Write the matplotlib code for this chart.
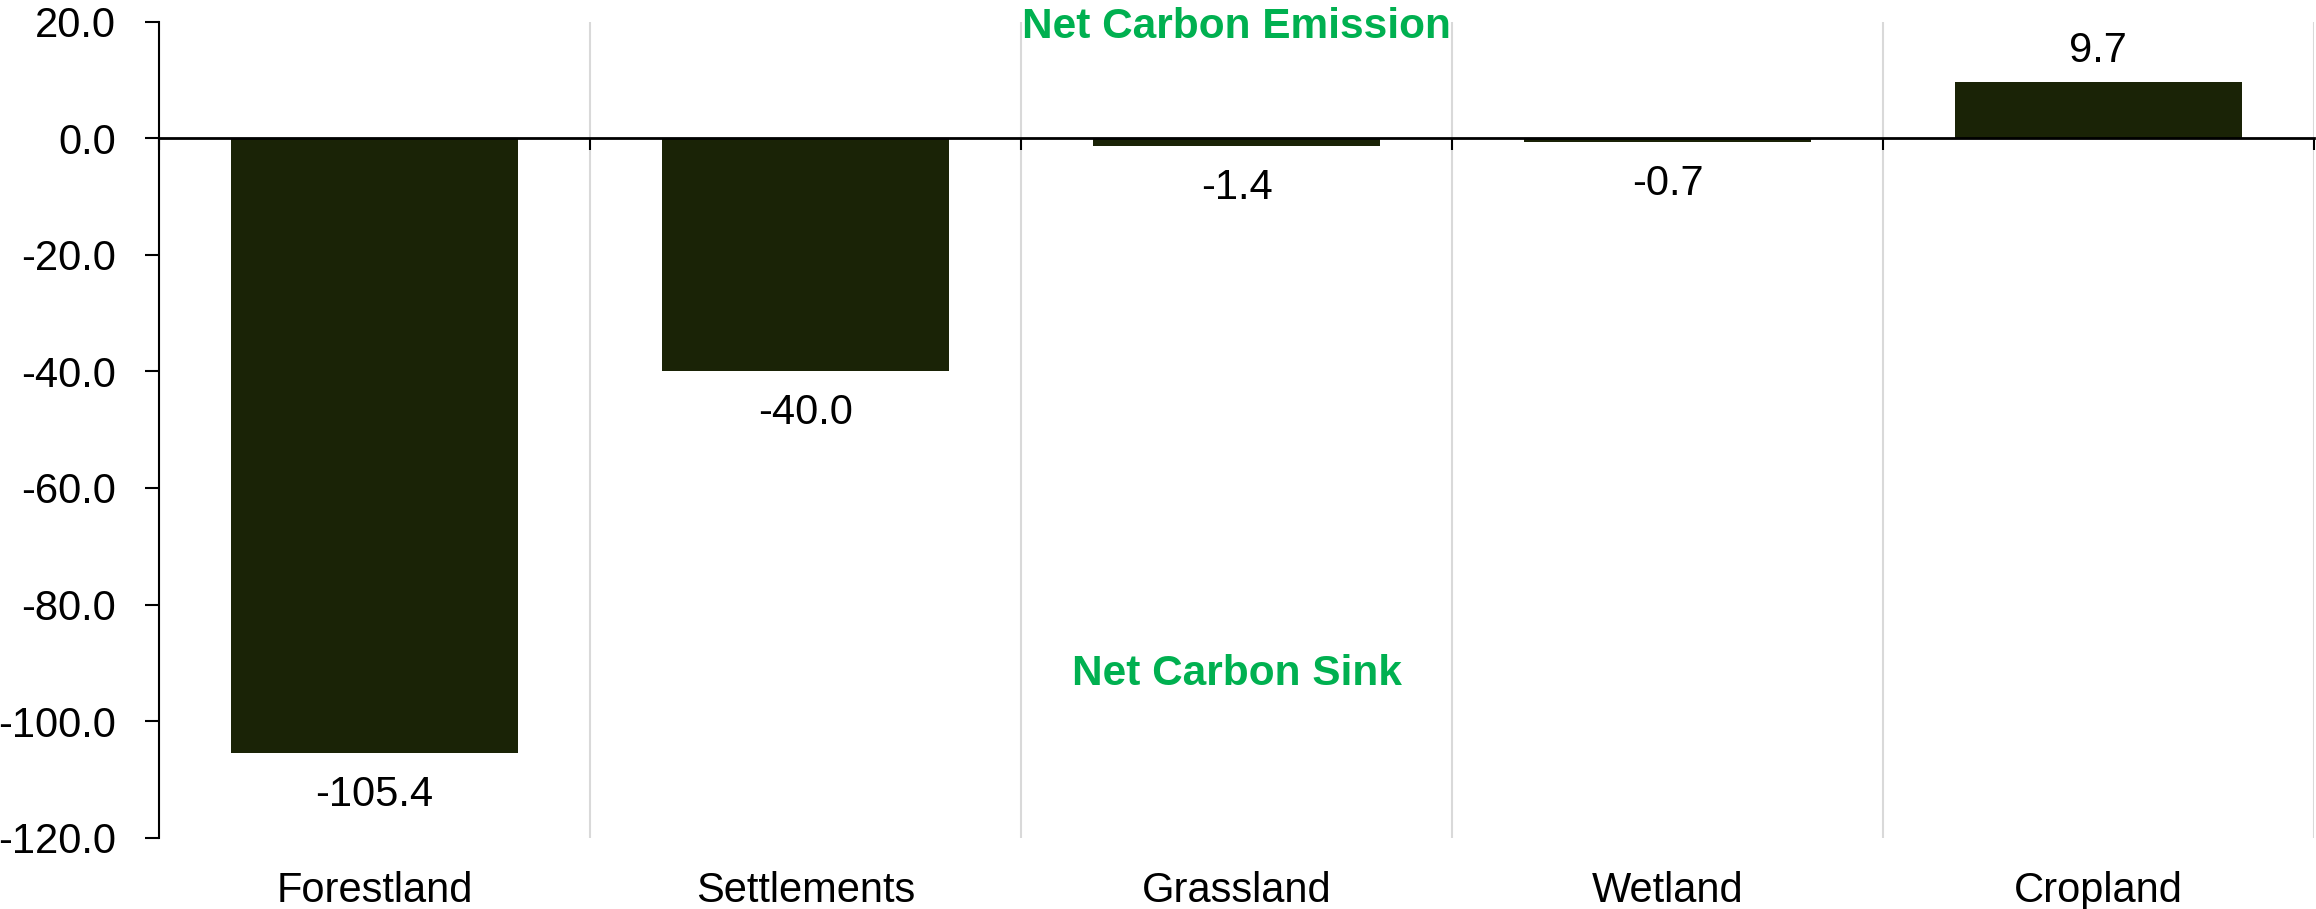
import matplotlib
matplotlib.use("Agg")
import matplotlib.pyplot as plt
import matplotlib.transforms as mtransforms

categories = ["Forestland", "Settlements", "Grassland", "Wetland", "Cropland"]
values = [-105.4, -40.0, -1.4, -0.7, 9.7]
yticks = [20, 0, -20, -40, -60, -80, -100, -120]

plt.rcParams['font.family'] = ['Liberation Sans', 'DejaVu Sans']

fig = plt.figure(figsize=(23.16, 9.09), dpi=100)
ax = fig.add_axes([0.0687, 0.0784, 0.9304, 0.8979])

bar_color = '#1a2306'
x = list(range(len(categories)))
bars = ax.bar(x, values, width=0.667, color=bar_color, zorder=3, linewidth=0)

ax.set_xlim(-0.5, len(categories) - 0.5)
ax.set_ylim(-120, 20)

# y axis
ax.set_yticks(yticks)
ax.set_yticklabels([f"{v:.1f}" for v in yticks])
ax.tick_params(axis='y', direction='out', length=10, width=1.5, pad=21,
               labelsize=30, colors='black')

# x axis at zero
ax.spines['bottom'].set_position(('data', 0))
ax.spines['bottom'].set_linewidth(2)
ax.spines['bottom'].set_zorder(4)
ax.spines['left'].set_linewidth(1.5)
ax.spines['top'].set_visible(False)
ax.spines['right'].set_visible(False)
bounds = [i - 0.5 for i in range(len(categories) + 1)]
ax.set_xticks(bounds)
ax.set_xticklabels([''] * len(bounds))
ax.tick_params(axis='x', direction='out', length=8.6, width=1.5)
ax.grid(axis='x', color='#d9d9d9', linewidth=1.5, zorder=0)
ax.set_axisbelow(True)

# category labels below the plot
trans = mtransforms.blended_transform_factory(ax.transData, ax.transAxes)
for i, c in enumerate(categories):
    ax.text(i, -0.0784, c, transform=trans, ha='center', va='baseline',
            fontsize=30, color='black')

# value labels
for i, v in enumerate(values):
    if v >= 0:
        ax.annotate(f"{v:.1f}", (i, v), xytext=(0, 20), textcoords='offset pixels',
                    ha='center', va='baseline', fontsize=30, color='black')
    else:
        ax.annotate(f"{v:.1f}", (i, v), xytext=(0, -22), textcoords='offset pixels',
                    ha='center', va='top', fontsize=30, color='black')

green = '#00b050'
ax.text(2.0, 17.1, "Net Carbon Emission", ha='center', va='baseline',
        fontsize=30.5, fontweight='bold', color=green, zorder=5)
ax.text(2.0, -93.8, "Net Carbon Sink", ha='center', va='baseline',
        fontsize=30.5, fontweight='bold', color=green, zorder=5)

fig.savefig("out.png", dpi=100)
